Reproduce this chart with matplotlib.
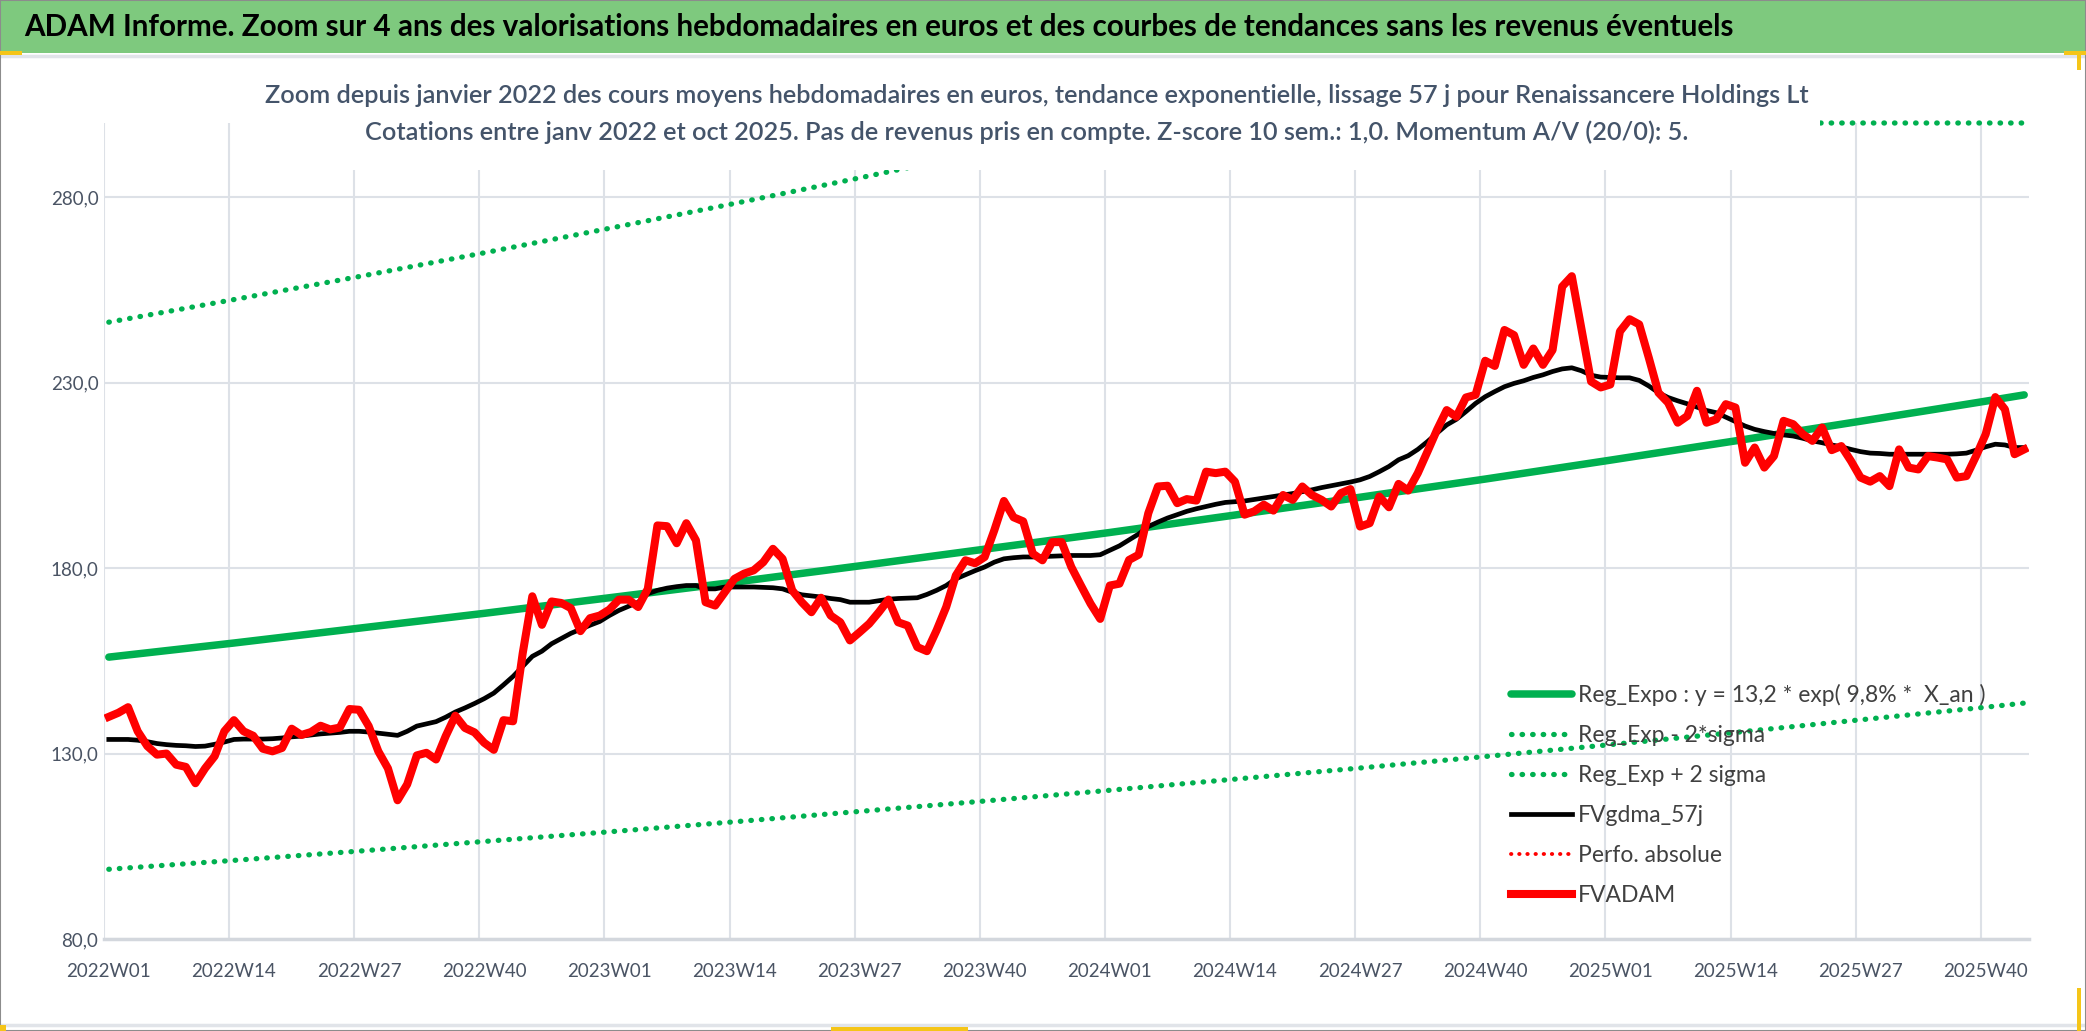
import numpy as np
import matplotlib
matplotlib.use("Agg")
import matplotlib.pyplot as plt
from matplotlib.patches import Rectangle
from matplotlib.lines import Line2D

plt.rcParams['font.family'] = ['Lato', 'DejaVu Sans']

# --- data (weekly, 2022W01 .. 2025W44) ---
years = [2022, 2023, 2024, 2025]
weeks_per_year = [52, 52, 52, 44]
weeks = [f"{y}W{w:02d}" for y, n in zip(years, weeks_per_year) for w in range(1, n + 1)]

fvadam = [
    139.9, 141.0, 142.5, 136.0, 132.0, 129.7, 130.0, 127.0, 126.4, 122.0,
    126.0, 129.3, 136.0, 139.0, 136.0, 134.8, 131.3, 130.6, 131.5, 136.7,
    135.0, 135.8, 137.5, 136.5, 137.0, 142.0, 141.8, 137.4, 130.6, 126.0,
    117.4, 121.7, 129.5, 130.2, 128.4, 134.7, 140.2, 136.9, 135.7, 132.9,
    131.0, 139.0, 138.7, 157.0, 172.4, 164.7, 171.0, 170.6, 169.2, 163.0,
    166.5, 167.2, 168.8, 171.5, 171.5, 169.5, 174.4, 191.5, 191.3, 186.7,
    192.1, 187.5, 170.8, 169.9, 173.5, 177.1, 178.5, 179.4, 181.6, 185.2,
    182.5, 174.0, 170.8, 168.1, 172.0, 167.2, 165.4, 160.5, 162.7, 165.0,
    168.1, 171.5, 165.4, 164.5, 158.7, 157.6, 163.2, 169.5, 178.0, 182.1,
    181.3, 183.0, 190.2, 198.1, 193.7, 192.6, 183.9, 182.1, 187.0, 187.0,
    180.3, 175.3, 170.4, 166.3, 175.3, 175.8, 182.2, 183.6, 194.8, 202.0,
    202.2, 197.5, 198.6, 198.2, 206.0, 205.6, 206.0, 203.3, 194.4, 195.3,
    197.1, 195.5, 199.7, 198.4, 202.0, 199.7, 198.4, 196.6, 200.2, 201.3,
    191.2, 192.1, 199.3, 196.4, 202.7, 200.9, 205.6, 211.4, 217.3, 222.6,
    220.8, 226.0, 226.7, 235.9, 234.5, 244.2, 242.8, 234.8, 239.2, 234.8,
    238.8, 255.9, 258.7, 244.5, 230.3, 228.7, 229.5, 243.8, 247.1, 245.7,
    236.7, 227.3, 224.6, 219.2, 221.0, 227.8, 219.2, 220.1, 224.2, 223.3,
    208.4, 212.5, 207.1, 210.2, 219.7, 218.8, 216.1, 214.3, 217.9, 211.8,
    212.9, 208.9, 204.4, 203.3, 204.8, 202.1, 212.0, 207.1, 206.6, 210.2,
    209.8, 209.3, 204.4, 204.8, 210.2, 216.1, 226.1, 222.8, 210.7, 212.0,
]

fvgdma_57j = [
    133.8, 133.8, 133.8, 133.6, 133.2, 132.7, 132.4, 132.2, 132.1, 131.9,
    132.0, 132.5, 133.1, 133.8, 133.9, 133.9, 133.9, 134.0, 134.2, 134.5,
    134.7, 135.0, 135.3, 135.5, 135.7, 136.0, 136.0, 135.8, 135.5, 135.2,
    134.9, 136.0, 137.4, 138.0, 138.6, 139.8, 141.2, 142.3, 143.5, 144.8,
    146.3, 148.5, 150.8, 153.5, 156.2, 157.6, 159.6, 161.0, 162.4, 163.5,
    164.6, 165.6, 167.2, 168.6, 169.7, 170.8, 173.1, 174.0, 174.6, 175.0,
    175.3, 175.3, 174.4, 174.4, 174.9, 174.9, 174.9, 174.9, 174.8, 174.7,
    174.4, 173.5, 172.8, 172.5, 172.2, 171.8, 171.5, 170.8, 170.8, 170.8,
    171.2, 171.6, 171.8, 171.9, 172.0, 172.9, 174.0, 175.3, 177.1, 178.2,
    179.3, 180.3, 181.6, 182.5, 182.8, 183.0, 183.0, 183.1, 183.2, 183.3,
    183.4, 183.4, 183.4, 183.6, 184.8, 186.0, 187.6, 189.2, 191.2, 192.4,
    193.5, 194.4, 195.3, 196.0, 196.6, 197.2, 197.7, 197.9, 198.1, 198.5,
    198.9, 199.3, 199.7, 200.1, 200.6, 201.1, 201.7, 202.2, 202.7, 203.2,
    203.8, 204.7, 206.0, 207.4, 209.2, 210.3, 212.0, 214.1, 216.4, 218.6,
    220.1, 222.2, 224.4, 226.2, 227.6, 228.9, 229.8, 230.5, 231.4, 232.1,
    233.0, 233.7, 234.0, 233.2, 232.0, 231.5, 231.4, 231.3, 231.3, 230.6,
    229.1, 227.3, 226.0, 225.1, 224.3, 223.4, 222.5, 221.9, 220.7, 219.5,
    218.3, 217.4, 216.8, 216.3, 215.9, 215.6, 215.0, 214.3, 213.8, 213.2,
    212.7, 212.0, 211.4, 211.0, 210.9, 210.7, 210.7, 210.7, 210.7, 210.7,
    210.7, 210.7, 210.8, 211.0, 211.8, 212.7, 213.4, 213.2, 212.5, 212.5,
]

# exponential trend and +/- 2 sigma band, read at every 13th week and at the last week
trend_weeks = ["2022W01", "2022W14", "2022W27", "2022W40", "2023W01", "2023W14",
               "2023W27", "2023W40", "2024W01", "2024W14", "2024W27", "2024W40",
               "2025W01", "2025W14", "2025W27", "2025W40", "2025W44"]
reg_expo = [156.0, 159.8, 163.8, 167.8, 172.0, 176.2, 180.6, 185.1, 189.6,
            194.3, 199.1, 204.0, 209.1, 214.3, 219.6, 225.0, 226.7]
reg_minus = [98.8, 101.2, 103.7, 106.3, 108.9, 111.6, 114.4, 117.2, 120.1,
             123.1, 126.1, 129.2, 132.4, 135.7, 139.1, 142.5, 143.6]
reg_plus = [246.3, 252.4, 258.6, 265.0, 271.6, 278.3, 285.2, 292.3, 299.5,
            306.9, 314.5, 322.2, 330.2, 338.4, 346.7, 355.3, 357.9]

y_ticks = [80, 130, 180, 230, 280]
y_max = 300

title = ("ADAM Informe. Zoom sur 4 ans des valorisations hebdomadaires en euros "
         "et des courbes de tendances sans les revenus éventuels")
sub1 = ("Zoom depuis janvier 2022 des cours moyens hebdomadaires en euros, tendance "
        "exponentielle, lissage 57 j pour Renaissancere Holdings Lt")
sub2 = ("Cotations entre janv 2022 et oct 2025. Pas de revenus pris en compte. "
        "Z-score 10 sem.: 1,0. Momentum A/V (20/0): 5.")

GREEN = '#00b050'
TICK_COL = '#4a5464'
W, H = 2086, 1031

fig = plt.figure(figsize=(W / 100, H / 100), dpi=100)
fig.patch.set_facecolor('white')

ax = fig.add_axes([104 / W, 1 - 939 / H, (2029 - 104) / W, (939 - 123) / H])

x = np.arange(len(weeks))
tx = [weeks.index(w) for w in trend_weeks]

ax.plot(tx, reg_expo, color=GREEN, lw=5.4, solid_capstyle='round',
        label='Reg_Expo : y = 13,2 * exp( 9,8% *  X_an )', zorder=3)
ax.plot(tx, reg_minus, color=GREEN, lw=3.8, ls=(0, (0.1, 1.9)), dash_capstyle='round',
        label='Reg_Exp - 2*sigma', zorder=3)
ax.plot(tx, np.minimum(reg_plus, y_max), color=GREEN, lw=3.8, ls=(0, (0.1, 1.9)),
        dash_capstyle='round', label='Reg_Exp + 2 sigma', zorder=3, clip_on=False)
ax.plot(x, fvgdma_57j, color='black', lw=3.4, label='FVgdma_57j', zorder=4)
ax.plot([], [], color='#ff0000', lw=2.8, ls=(0, (0.1, 2.0)), dash_capstyle='round',
        label='Perfo. absolue')
ax.plot(x, fvadam, color='#ff0000', lw=5.8, solid_joinstyle='round',
        label='FVADAM', zorder=5)

ax.set_xlim(-0.5, len(weeks) - 0.5)
ax.set_ylim(y_ticks[0], y_max)
ax.set_yticks(y_ticks)
ax.set_yticklabels([f"{v:.1f}".replace('.', ',') for v in y_ticks])
ax.set_xticks(np.arange(0, len(weeks), 13))
ax.set_xticklabels(weeks[::13])
ax.set_xticks(np.arange(-0.5, len(weeks), 13), minor=True)

ax.grid(False)
ax.grid(axis='y', which='major', color='#dde1e7', lw=1.5, zorder=0)
ax.grid(axis='x', which='minor', color='#dde1e7', lw=1.5, zorder=0)
ax.tick_params(which='both', length=0)
ax.tick_params(axis='y', labelsize=13.5, labelcolor=TICK_COL, pad=4)
ax.tick_params(axis='x', labelsize=13.5, labelcolor=TICK_COL, pad=17)
for s in ['top', 'right', 'left']:
    ax.spines[s].set_visible(False)
ax.spines['bottom'].set_color('#d3d7dd')
ax.spines['bottom'].set_linewidth(2.5)

leg = fig.legend(loc='upper left', bbox_to_anchor=(1511 / W, 1 - 684 / H),
                 frameon=False, fontsize=16.5, handlelength=2.66, handletextpad=0.26,
                 labelspacing=0.83, borderpad=0, borderaxespad=0)
for t in leg.get_texts():
    t.set_color('#404040')

# title band
fig.add_artist(Rectangle((0, 1 - 53 / H), 1, 53 / H, transform=fig.transFigure,
                         facecolor='#7ec97e', edgecolor='none', zorder=1))
fig.add_artist(Line2D([0, 1], [1 - 56 / H] * 2, transform=fig.transFigure,
                      color='#e1e4e9', lw=2.5, zorder=1))
fig.text(24 / W, 1 - 27 / H, title, fontsize=21.3, weight='bold', color='black',
         va='center', ha='left', zorder=7)

# subtitle box (white, hides what passes behind it)
fig.add_artist(Rectangle((254 / W, 1 - 170 / H), (1820 - 254) / W, (170 - 66) / H,
                         transform=fig.transFigure, facecolor='white',
                         edgecolor='none', zorder=6))
fig.text(1037 / W, 1 - 103 / H, sub1, fontsize=18.2, weight='semibold',
         color='#44546a', ha='center', va='baseline', zorder=7)
fig.text(1027 / W, 1 - 140 / H, sub2, fontsize=18.2, weight='semibold',
         color='#44546a', ha='center', va='baseline', zorder=7)

# frame and selection handles
fig.add_artist(Line2D([0, 1], [1 - 1025 / H] * 2, transform=fig.transFigure,
                      color='#e1e4e9', lw=2.5, zorder=1))
fig.add_artist(Rectangle((0, 0), 1, 1, transform=fig.transFigure, facecolor='none',
                         edgecolor='#8c8c8c', lw=1.5, zorder=8))
for (x0, y0, w, h) in [(0, 51, 22, 4), (2064, 51, 22, 4), (2077, 52, 4, 18),
                       (0, 1025, 6, 6), (831, 1027, 137, 4), (2077, 988, 4, 43)]:
    fig.add_artist(Rectangle((x0 / W, 1 - (y0 + h) / H), w / W, h / H,
                             transform=fig.transFigure, facecolor='#f5c518',
                             edgecolor='none', zorder=8))

fig.savefig('out.png', dpi=100)
